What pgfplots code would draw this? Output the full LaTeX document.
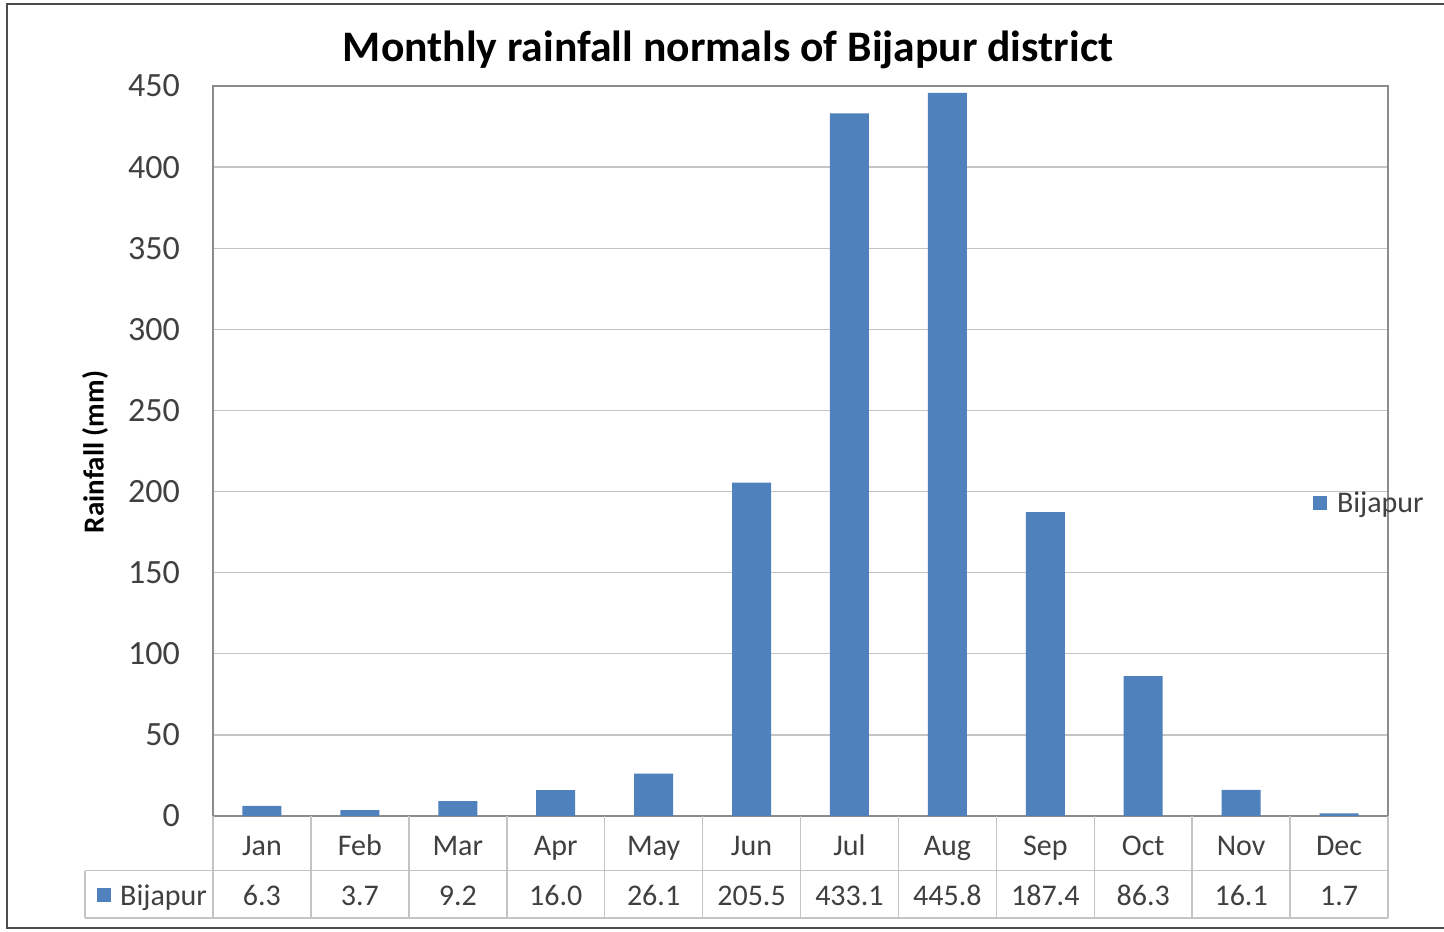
\documentclass[border=0pt]{standalone}
\usepackage{fontspec}
\setmainfont{Carlito}
\usepackage{pgfplots}
\usepackage{pgfplotstable}
\pgfplotsset{compat=1.18}
\definecolor{barblue}{HTML}{4F81BD}
\definecolor{txt}{HTML}{404040}
\definecolor{gridc}{HTML}{C4C4C4}
\definecolor{boxc}{HTML}{8C8C8C}
\pgfplotstableread{
x month val
0 Jan 6.3
1 Feb 3.7
2 Mar 9.2
3 Apr 16.0
4 May 26.1
5 Jun 205.5
6 Jul 433.1
7 Aug 445.8
8 Sep 187.4
9 Oct 86.3
10 Nov 16.1
11 Dec 1.7
}\rain
\begin{document}
\begin{tikzpicture}[x=1pt,y=1pt]
\path[use as bounding box] (0,0) rectangle (1444,-932);
\fill[white] (0,0) rectangle (1444,-932);
% outer frame
\draw[line width=2.5pt, black!70] (1444,-4) -- (7,-4) -- (7,-928) -- (1444,-928);
% title
\node[anchor=base, inner sep=0pt, font=\fontsize{43.6}{50}\selectfont\bfseries] at (728,-61) {Monthly rainfall normals of Bijapur district};
\begin{axis}[
  at={(213pt,-816pt)}, anchor=south west,
  scale only axis, width=1175pt, height=730pt,
  xmin=-0.5, xmax=11.5, ymin=0, ymax=450,
  ytick={0,50,...,450},
  xtick={0,...,11},
  xticklabels from table={\rain}{month},
  ymajorgrids,
  grid style={draw=gridc, line width=1.3pt},
  axis line style={draw=boxc, line width=1.5pt},
  major tick style={draw=none},
  /pgf/number format/assume math mode=true,
  yticklabel style={font=\fontsize{34}{40}\selectfont, text=txt, inner sep=0pt, anchor=east, xshift=-33pt},
  xticklabel style={font=\fontsize{30}{36}\selectfont, text=txt, inner sep=0pt, anchor=base, yshift=-35pt},
  ylabel={Rainfall (mm)},
  ylabel style={at={(axis description cs:-0.1004,0.4986)}, anchor=center, font=\fontsize{29}{34}\selectfont\bfseries, inner sep=0pt},
  ybar, bar width=39pt,
  legend style={draw=none, fill=none, at={(axis description cs:0.936,0.429)}, anchor=west, inner sep=0pt, font=\fontsize{30}{36}\selectfont, text=txt, nodes={inner sep=0pt}, column sep=10pt},
  legend image code/.code={\fill[barblue] (0pt,-7pt) rectangle (14pt,7pt);},
]
\addplot[fill=barblue, draw=none] table[x=x, y=val] {\rain};
\addlegendentry{Bijapur}
\end{axis}
% data table
\begin{scope}[line width=1.5pt]
\draw[gridc] (85,-870.5) -- (1388,-870.5);
\draw[gridc] (85,-918) -- (1388,-918);
\draw[gridc] (85,-870.5) -- (85,-918);
\foreach \k in {0,...,12} {
  \draw[gridc] ({213+\k*97.917},-816) -- ({213+\k*97.917},-918);
}
\end{scope}
\fill[barblue] (97,-888) rectangle (111,-902);
\node[anchor=base west, inner sep=0pt, font=\fontsize{30}{36}\selectfont, text=txt] at (120,-905) {Bijapur};
\foreach \v [count=\i from 0] in {6.3,3.7,9.2,16.0,26.1,205.5,433.1,445.8,187.4,86.3,16.1,1.7} {
  \node[anchor=base, inner sep=0pt, font=\fontsize{30}{36}\selectfont, text=txt] at ({213+(\i+0.5)*97.917},-905) {\v};
}
\end{tikzpicture}
\end{document}
